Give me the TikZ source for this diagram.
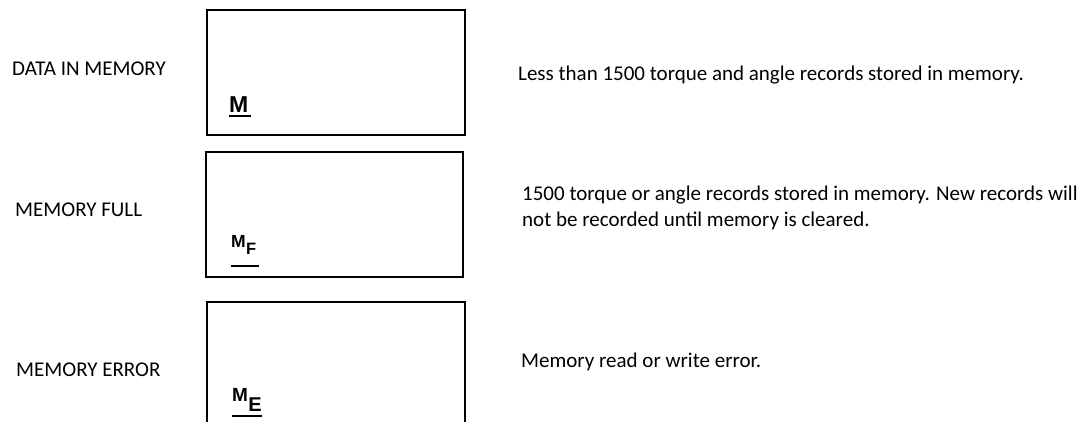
\documentclass[tikz,border=0pt]{standalone}
\usepackage{fontspec}
\setmainfont{Carlito}
\newfontfamily\arl{Liberation Sans}
\begin{document}
\begin{tikzpicture}[x=1pt,y=1pt,
  lbl/.style={anchor=base west, inner sep=0pt, font=\fontsize{21}{26}\selectfont},
  panel/.style={draw, line width=1.5pt},
  mk/.style={anchor=base west, inner sep=0pt, font=\arl\bfseries\fontsize{#1}{#1}\selectfont},
  uline/.style={line width=2pt}]
\useasboundingbox (0,0) rectangle (1090,422);
% panels
\draw[panel] (207,412) rectangle (465,287);
\draw[panel] (206,270) rectangle (463,145);
\draw[panel] (207,-3) -- (207,120) -- (465,120) -- (465,-3);
% left labels
\node[lbl] (l1) at (12,346) {DATA IN MEMORY};
\node[lbl] (l2) at (15,205) {MEMORY FULL};
\node[lbl] (l3) at (16,45.3) {MEMORY ERROR};
% right descriptions
\node[lbl] (d1) at (518,341) {Less than 1500 torque and angle records stored in memory.};
\node[lbl, align=left] (d2) at (522,195) {1500 torque or angle records stored in memory. New records will\\not be recorded until memory is cleared.};
\node[lbl] (d3) at (521,54) {Memory read or write error.};
% indicators
\node[mk=23] (m1) at (229,309) {M};
\draw[uline] (229,306) -- (251,306);
\node[mk=17.5] (m2) at (231,174) {M};
\node[mk=16.5] (f2) at (m2.base east) [yshift=-7pt] {F};
\draw[uline] (231,156) -- (259,156);
\node[mk=19] (m3) at (232,20.3) {M};
\node[mk=20] (e3) at (m3.base east) [yshift=-10pt] {E};
\draw[uline] (232,6.3) -- (262,6.3);
\end{tikzpicture}
\end{document}
